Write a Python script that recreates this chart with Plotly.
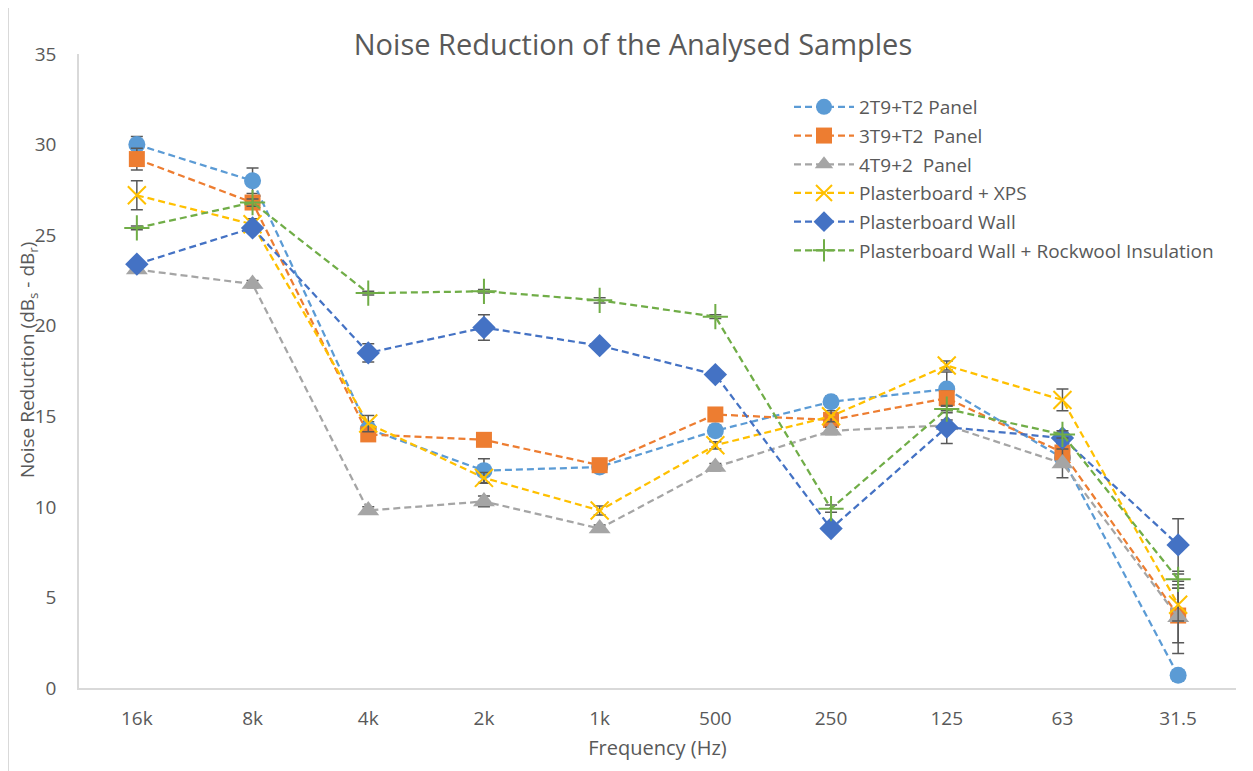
import plotly.graph_objects as go

categories = ["16k", "8k", "4k", "2k", "1k", "500", "250", "125", "63", "31.5"]

names = ["2T9+T2 Panel", "3T9+T2  Panel", "4T9+2  Panel", "Plasterboard + XPS",
         "Plasterboard Wall", "Plasterboard Wall + Rockwool Insulation"]

s_2t9 = [30.0, 28.0, 14.3, 12.0, 12.2, 14.2, 15.8, 16.5, 12.7, 0.7]
s_3t9 = [29.2, 26.8, 14.0, 13.7, 12.3, 15.1, 14.8, 16.0, 13.0, 4.0]
s_4t9 = [23.1, 22.3, 9.8, 10.3, 8.8, 12.2, 14.2, 14.5, 12.4, 3.9]
s_xps = [27.2, 25.6, 14.6, 11.6, 9.8, 13.4, 15.0, 17.8, 15.9, 4.6]
s_wall = [23.4, 25.4, 18.5, 19.9, 18.9, 17.3, 8.8, 14.4, 13.8, 7.9]
s_rock = [25.4, 26.8, 21.8, 21.9, 21.4, 20.5, 9.9, 15.4, 14.0, 6.0]

e_2t9 = [0.45, 0.7, 0.4, 0.65, 0.2, 0.3, 0.3, 0.95, 0.4, 0.3]
e_3t9 = [0.6, 0.3, 0.3, 0.3, 0.2, 0.3, 0.3, 0.4, 0.5, 1.5]
e_4t9 = [0.2, 0.2, 0.2, 0.3, 0.2, 0.2, 0.2, 0.3, 0.8, 2.0]
e_xps = [0.8, 0.3, 0.45, 0.3, 0.25, 0.2, 0.3, 0.25, 0.6, 0.9]
e_wall = [0.2, 0.2, 0.5, 0.7, 0.2, 0.2, 0.2, 0.9, 0.3, 1.45]
e_rock = [0.1, 0.2, 0.1, 0.1, 0.15, 0.1, 0.2, 0.2, 0.2, 0.3]

series = [s_2t9, s_3t9, s_4t9, s_xps, s_wall, s_rock]
errors = [e_2t9, e_3t9, e_4t9, e_xps, e_wall, e_rock]
colors = ["#5B9BD5", "#ED7D31", "#A5A5A5", "#FFC000", "#4472C4", "#70AD47"]
symbols = ["circle", "square", "triangle-up", "x-thin", "diamond", "cross-thin"]
sizes = [17, 16, 19, 18, 18, 18]

FONT = "Open Sans"
GREY = "#595959"

# the page body has an 8px margin; the figure is sized so the plot lands where the reference has it
W, H = 1245, 763
OFF = 8
L = 79

fig = go.Figure()
for name, ys, err, col, sym, sz in zip(names, series, errors, colors, symbols, sizes):
    thin = sym.endswith("thin")
    fig.add_trace(go.Scatter(
        x=categories, y=ys, name=name, mode="lines+markers",
        legendgroup=name,
        line=dict(color=col, width=2.25, dash="7px,4px"),
        marker=dict(symbol=sym, size=sz, color=col,
                    line=dict(color=col, width=2 if thin else 0)),
        error_y=dict(type="data", array=err, visible=True,
                     color=GREY, thickness=1.5, width=6),
    ))

PW = 1236 - L

fig.update_layout(
    width=W, height=H,
    paper_bgcolor="white", plot_bgcolor="white",
    margin=dict(l=L - OFF, r=17, t=54 - OFF, b=83),
    font=dict(family=FONT, color=GREY, size=18),
    title=dict(text="Noise Reduction of the Analysed Samples",
               x=(633 - OFF) / W, xanchor="center", y=1 - (45 - OFF) / H, yanchor="middle",
               font=dict(size=29, color=GREY, family=FONT)),
    xaxis=dict(type="category", categoryorder="array", categoryarray=categories,
               range=[-0.5, 9.5], showgrid=False, showline=True,
               linecolor="#D9D9D9", linewidth=1.5, ticks="",
               ticklabelstandoff=12,
               tickfont=dict(size=19, color=GREY),
               title=dict(text="Frequency (Hz)", standoff=11,
                          font=dict(size=20, color=GREY))),
    yaxis=dict(range=[0, 35], dtick=5, showgrid=False, showline=True,
               linecolor="#D9D9D9", linewidth=1.5, ticks="", zeroline=False,
               ticklabelstandoff=17,
               tickfont=dict(size=19, color=GREY)),
    annotations=[dict(text="Noise Reduction (dB<sub>s</sub> - dB<sub>r</sub>)",
                      textangle=-90, xref="paper", yref="paper",
                      x=(28 - L) / PW, y=(688 - 360) / 634,
                      xanchor="center", yanchor="middle", showarrow=False,
                      font=dict(size=19, color=GREY, family=FONT))],
    legend=dict(x=(789 - L) / PW, y=(688 - 88) / 634, xanchor="left", yanchor="top",
                bgcolor="rgba(0,0,0,0)", font=dict(size=19, color=GREY),
                tracegroupgap=1, itemwidth=60),
    shapes=[dict(type="rect", xref="paper", yref="paper",
                 x0=(8.5 - L) / PW, x1=1.2, y0=-0.3, y1=(688 - 7.5) / 634,
                 line=dict(color="#D9D9D9", width=1), layer="below")],
)

fig.write_html("out.html")
